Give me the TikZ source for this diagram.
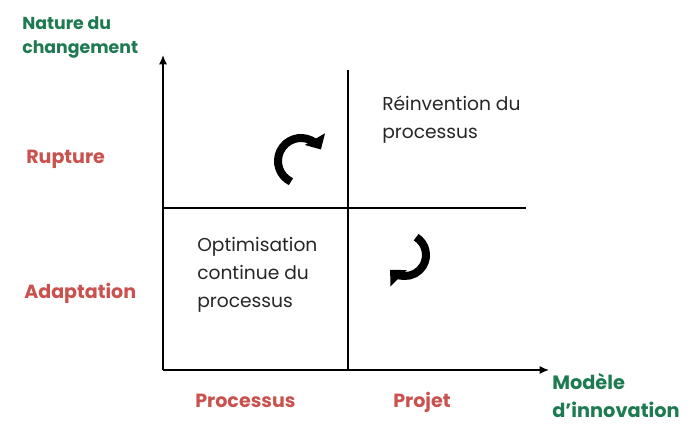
\documentclass[tikz,border=0pt]{standalone}
\usepackage{fontspec}
\setmainfont{Poppins}
\usepackage{tikz}
\usetikzlibrary{arrows.meta}
\usepackage{xcolor}
\definecolor{AxisGreen}{HTML}{1E7A50}
\definecolor{LevelRed}{HTML}{C9524F}
\definecolor{CellGray}{HTML}{262626}

\begin{document}
\begin{tikzpicture}[x=0.75pt,y=-0.75pt,>={Latex[length=7pt,width=6pt]},
  every node/.style={inner sep=0pt},
  axislabel/.style={AxisGreen,font=\bfseries,align=left,anchor=base west},
  levellabel/.style={LevelRed,font=\fontsize{14.3}{16}\selectfont\bfseries,anchor=base west},
  celltext/.style={CellGray,font=\fontsize{14}{21}\selectfont,align=left,anchor=base west},
  turn/.style={line width=6pt,-{Triangle[length=9pt,width=17pt]}}]
  \useasboundingbox (0,0) rectangle (700,436);
  \coordinate (O) at (163,370);
  \coordinate (Y) at (163,55);
  \coordinate (X) at (549,370);
  \coordinate (V1) at (348,70);
  \coordinate (V2) at (348,370);
  \coordinate (H1) at (163,208);
  \coordinate (H2) at (526,208);
  \draw[->,line width=1.1pt] (O)--(Y);
  \draw[->,line width=1.1pt] (O)--(X);
  \draw[line width=1.1pt] (V1)--(V2);
  \draw[line width=1.1pt] (H1)--(H2);
  \node[axislabel,font=\fontsize{13}{17.5}\selectfont\bfseries] (nature) at (22,53) {Nature du\\changement};
  \node[axislabel,font=\fontsize{14.5}{21}\selectfont\bfseries] (modele) at (552,417) {Mod\`ele\\d'innovation};
  \node[levellabel] (rupture) at (26,163) {Rupture};
  \node[levellabel] (adapt) at (24,298) {Adaptation};
  \node[levellabel] (proc) at (195,407) {Processus};
  \node[levellabel] (projet) at (393,407) {Projet};
  \node[celltext] (reinv) at (382,138) {R\'einvention du\\processus};
  \node[celltext] (optim) at (197,307) {Optimisation\\continue du\\processus};
  \draw[turn] (301,161) ++(116:23) arc[start angle=116,end angle=330,radius=23];
  \draw[turn] (405,255) ++(-58:21) arc[start angle=-58,end angle=135,radius=21];
\end{tikzpicture}
\end{document}
